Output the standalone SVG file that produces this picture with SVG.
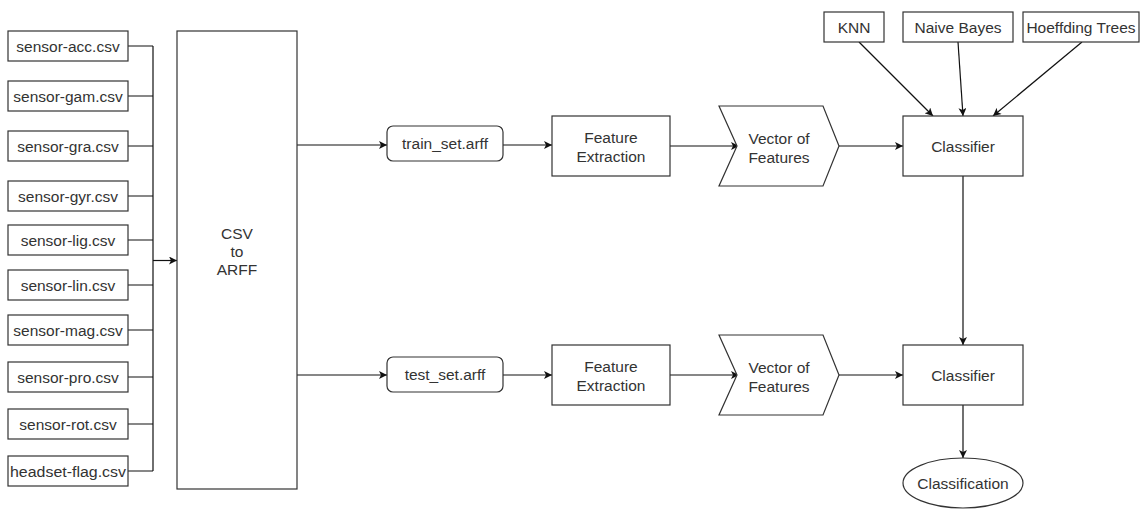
<svg xmlns="http://www.w3.org/2000/svg" width="1143" height="509" viewBox="0 0 1143 509">
  <style>
    .box { fill: #ffffff; stroke: #333333; stroke-width: 1.2; }
    .lbl { font-family: "Liberation Sans", Arial, sans-serif; font-size: 15.5px; fill: #333333; text-anchor: middle; }
    .wire { fill: none; stroke: #111111; stroke-width: 1.2; }
    .arrow { fill: none; stroke: #111111; stroke-width: 1.2; marker-end: url(#head); }
  </style>
  <defs>
    <marker id="head" viewBox="0 0 10 10" refX="10" refY="5" markerUnits="userSpaceOnUse" markerWidth="9" markerHeight="8" orient="auto">
      <path d="M0,0 L10,5 L0,10 L2.5,5 Z" fill="#111111"/>
    </marker>
  </defs>
  <rect width="1143" height="509" fill="#ffffff"/>

  <!-- connectors -->
  <g id="connectors">
    <!-- sensor files into the bus -->
    <path class="wire" d="M128,46 H153 M128,96 H153 M128,146 H153 M128,196 H153 M128,240 H153 M128,285 H153 M128,330 H153 M128,377 H153 M128,424 H153 M128,471 H153 M153,46 V471"/>
    <path class="arrow" d="M153,260.5 H177"/>
    <!-- training branch -->
    <path class="arrow" d="M297,145 H387"/>
    <path class="arrow" d="M503,145 H552"/>
    <path class="arrow" d="M670,146 H739"/>
    <path class="arrow" d="M839,146 H903"/>
    <!-- algorithms into the classifier -->
    <path class="arrow" d="M859,42 L933,116"/>
    <path class="arrow" d="M958,42 L963,116"/>
    <path class="arrow" d="M1082,42 L993,116"/>
    <!-- trained model to the test classifier -->
    <path class="arrow" d="M963,176 V345"/>
    <!-- test branch -->
    <path class="arrow" d="M297,375 H387"/>
    <path class="arrow" d="M503,375 H552"/>
    <path class="arrow" d="M670,375 H739"/>
    <path class="arrow" d="M839,375 H903"/>
    <path class="arrow" d="M963,405 V458"/>
  </g>

  <!-- input csv files -->
  <g id="sensor-acc"><rect class="box" x="8" y="31" width="120" height="30"/><text class="lbl" x="68" y="52">sensor-acc.csv</text></g>
  <g id="sensor-gam"><rect class="box" x="8" y="81" width="120" height="30"/><text class="lbl" x="68" y="102">sensor-gam.csv</text></g>
  <g id="sensor-gra"><rect class="box" x="8" y="131" width="120" height="30"/><text class="lbl" x="68" y="152">sensor-gra.csv</text></g>
  <g id="sensor-gyr"><rect class="box" x="8" y="181" width="120" height="30"/><text class="lbl" x="68" y="202">sensor-gyr.csv</text></g>
  <g id="sensor-lig"><rect class="box" x="8" y="225" width="120" height="30"/><text class="lbl" x="68" y="246">sensor-lig.csv</text></g>
  <g id="sensor-lin"><rect class="box" x="8" y="270" width="120" height="30"/><text class="lbl" x="68" y="291">sensor-lin.csv</text></g>
  <g id="sensor-mag"><rect class="box" x="8" y="315" width="120" height="30"/><text class="lbl" x="68" y="336">sensor-mag.csv</text></g>
  <g id="sensor-pro"><rect class="box" x="8" y="362" width="120" height="30"/><text class="lbl" x="68" y="383">sensor-pro.csv</text></g>
  <g id="sensor-rot"><rect class="box" x="8" y="409" width="120" height="30"/><text class="lbl" x="68" y="430">sensor-rot.csv</text></g>
  <g id="headset-flag"><rect class="box" x="8" y="456" width="120" height="30"/><text class="lbl" x="68" y="477" textLength="116" lengthAdjust="spacingAndGlyphs">headset-flag.csv</text></g>

  <!-- converter -->
  <g id="csv-to-arff">
    <rect class="box" x="177" y="31" width="120" height="458"/>
    <text class="lbl" x="237" y="239">CSV</text>
    <text class="lbl" x="237" y="257">to</text>
    <text class="lbl" x="237" y="275">ARFF</text>
  </g>

  <!-- training branch -->
  <g id="train-set"><rect class="box" x="387" y="126" width="116" height="35" rx="6"/><text class="lbl" x="445" y="149">train_set.arff</text></g>
  <g id="feature-extraction-train">
    <rect class="box" x="552" y="116" width="118" height="60"/>
    <text class="lbl" x="611" y="143">Feature</text>
    <text class="lbl" x="611" y="161.5">Extraction</text>
  </g>
  <g id="vector-train">
    <polygon class="box" points="719,106 823,106 839,146 823,186 719,186 737,146"/>
    <text class="lbl" x="779" y="144">Vector of</text>
    <text class="lbl" x="779" y="162.5">Features</text>
  </g>
  <g id="classifier-train"><rect class="box" x="903" y="116" width="120" height="60"/><text class="lbl" x="963" y="152">Classifier</text></g>

  <!-- algorithms -->
  <g id="knn"><rect class="box" x="824" y="12" width="60" height="30"/><text class="lbl" x="854" y="33">KNN</text></g>
  <g id="naive-bayes"><rect class="box" x="903" y="12" width="110" height="30"/><text class="lbl" x="958" y="33">Naive Bayes</text></g>
  <g id="hoeffding-trees"><rect class="box" x="1023" y="12" width="116" height="30"/><text class="lbl" x="1081" y="33">Hoeffding Trees</text></g>

  <!-- test branch -->
  <g id="test-set"><rect class="box" x="387" y="357" width="116" height="35" rx="6"/><text class="lbl" x="445" y="380">test_set.arff</text></g>
  <g id="feature-extraction-test">
    <rect class="box" x="552" y="345" width="118" height="60"/>
    <text class="lbl" x="611" y="372">Feature</text>
    <text class="lbl" x="611" y="390.5">Extraction</text>
  </g>
  <g id="vector-test">
    <polygon class="box" points="719,335 823,335 839,375 823,415 719,415 737,375"/>
    <text class="lbl" x="779" y="373">Vector of</text>
    <text class="lbl" x="779" y="391.5">Features</text>
  </g>
  <g id="classifier-test"><rect class="box" x="903" y="345" width="120" height="60"/><text class="lbl" x="963" y="381">Classifier</text></g>

  <!-- result -->
  <g id="classification"><ellipse class="box" cx="963" cy="483" rx="60" ry="25"/><text class="lbl" x="963" y="489">Classification</text></g>
</svg>
